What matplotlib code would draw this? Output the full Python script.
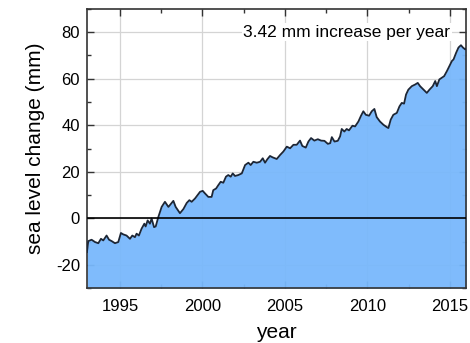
import matplotlib
matplotlib.use("Agg")
import matplotlib.pyplot as plt
from matplotlib.ticker import MultipleLocator

plt.rcParams['font.family'] = ['Liberation Sans', 'DejaVu Sans']
plt.rcParams['axes.unicode_minus'] = False

# sea level change (year, mm)
years = [1993.00, 1993.08, 1993.28, 1993.49, 1993.69, 1993.85, 1993.99, 1994.19,
         1994.34, 1994.50, 1994.70, 1994.90, 1995.06, 1995.20, 1995.40, 1995.61,
         1995.75, 1995.91, 1996.01, 1996.15, 1996.31, 1996.48, 1996.56, 1996.68,
         1996.82, 1996.92, 1997.07, 1997.17, 1997.33, 1997.53, 1997.73, 1997.94,
         1998.10, 1998.24, 1998.38, 1998.64, 1998.85, 1999.05, 1999.21, 1999.35,
         1999.55, 1999.70, 1999.86, 2000.02, 2000.16, 2000.36, 2000.56, 2000.66,
         2000.83, 2000.97, 2001.11, 2001.27, 2001.43, 2001.57, 2001.72, 2001.84,
         2001.98, 2002.18, 2002.39, 2002.59, 2002.79, 2002.93, 2003.09, 2003.30,
         2003.50, 2003.66, 2003.80, 2003.94, 2004.10, 2004.26, 2004.40, 2004.51,
         2004.71, 2004.91, 2005.12, 2005.32, 2005.52, 2005.72, 2005.92, 2006.06,
         2006.27, 2006.43, 2006.59, 2006.79, 2007.00, 2007.20, 2007.40, 2007.61,
         2007.75, 2007.85, 2008.01, 2008.21, 2008.35, 2008.45, 2008.61, 2008.75,
         2008.89, 2009.10, 2009.26, 2009.46, 2009.62, 2009.76, 2009.91, 2010.11,
         2010.27, 2010.43, 2010.57, 2010.77, 2010.98, 2011.18, 2011.28, 2011.42,
         2011.58, 2011.79, 2011.95, 2012.09, 2012.23, 2012.35, 2012.49, 2012.70,
         2012.90, 2013.06, 2013.20, 2013.41, 2013.61, 2013.77, 2013.97, 2014.12,
         2014.22, 2014.37, 2014.52, 2014.66, 2014.83, 2014.98, 2015.13, 2015.23,
         2015.39, 2015.53, 2015.68, 2015.80, 2015.94, 2016.00]
sea_level = [-14.5, -9.8, -9.2, -10.2, -10.7, -8.8, -9.5, -7.4,
             -9.2, -9.8, -10.7, -10.2, -6.3, -6.9, -7.4, -8.8,
             -7.4, -8.1, -6.6, -7.4, -4.5, -2.3, -3.5, -0.9,
             -2.3, -0.1, -3.8, -3.5, 0.6, 4.9, 7.1, 4.9,
             6.3, 7.5, 4.9, 2.2, 4.0, 6.6, 7.8, 7.1,
             8.5, 9.9, 11.4, 11.8, 10.7, 9.2, 9.2, 12.1,
             12.8, 14.3, 15.7, 15.3, 17.9, 18.6, 17.9, 19.3,
             18.2, 18.6, 19.3, 22.9, 23.9, 22.9, 24.3, 23.9,
             24.3, 25.8, 23.9, 25.4, 26.8, 26.2, 25.8, 25.5,
             27.2, 28.7, 30.8, 30.1, 31.6, 31.6, 33.4, 31.1,
             30.4, 33.0, 34.5, 33.4, 34.0, 33.4, 33.3, 32.0,
             32.3, 34.9, 33.0, 33.3, 35.2, 38.4, 37.3, 38.4,
             37.8, 39.8, 39.5, 41.6, 44.1, 46.0, 44.5, 44.1,
             46.0, 47.0, 43.5, 41.6, 40.2, 39.2, 38.8, 42.4,
             44.5, 45.3, 48.1, 49.6, 49.3, 53.2, 55.3, 56.8,
             57.5, 58.2, 56.8, 55.3, 53.9, 55.3, 56.8, 59.0,
             56.8, 59.7, 60.4, 61.1, 63.3, 65.4, 67.6, 68.3,
             71.2, 73.4, 74.4, 73.4, 72.6, 73.0]

fig = plt.figure(figsize=(4.7, 3.43), dpi=100)
ax = fig.add_axes([0.185, 0.16, 0.807, 0.814])

ymin, ymax = -30, 90
ax.fill_between(years, sea_level, ymin, color='#78b8fc', alpha=0.95, lw=0, zorder=2)
ax.plot(years, sea_level, color='#1c2636', lw=1.3, zorder=3)
ax.axhline(0, color='black', lw=1.2, zorder=4)

ax.set_xlim(1993, 2016)
ax.set_ylim(ymin, ymax)
ax.xaxis.set_major_locator(MultipleLocator(5))
ax.xaxis.set_minor_locator(MultipleLocator(2.5))
ax.yaxis.set_minor_locator(MultipleLocator(10))
ax.set_yticks([-20, 0, 20, 40, 60, 80])
ax.grid(True, which='major', color='#d4d4d4', lw=0.9, zorder=1)
ax.set_axisbelow(True)

ax.tick_params(which='both', direction='in', top=True, right=True, color='#333333',
               labelsize=12)
ax.tick_params(axis='x', pad=8)
ax.tick_params(axis='y', pad=5)
ax.tick_params(which='major', length=5, width=1)
ax.tick_params(which='minor', length=3, width=1)
for sp in ax.spines.values():
    sp.set_color('#333333')
    sp.set_linewidth(1.2)

ax.set_xlabel('year', fontsize=15, labelpad=6)
ax.set_ylabel('sea level change (mm)', fontsize=15, labelpad=8)

ax.text(0.958, 0.917, '3.42 mm increase per year', transform=ax.transAxes,
        ha='right', va='center', fontsize=12.5, zorder=5,
        bbox=dict(facecolor='white', edgecolor='none', pad=1))

fig.savefig('out.png', dpi=100)
